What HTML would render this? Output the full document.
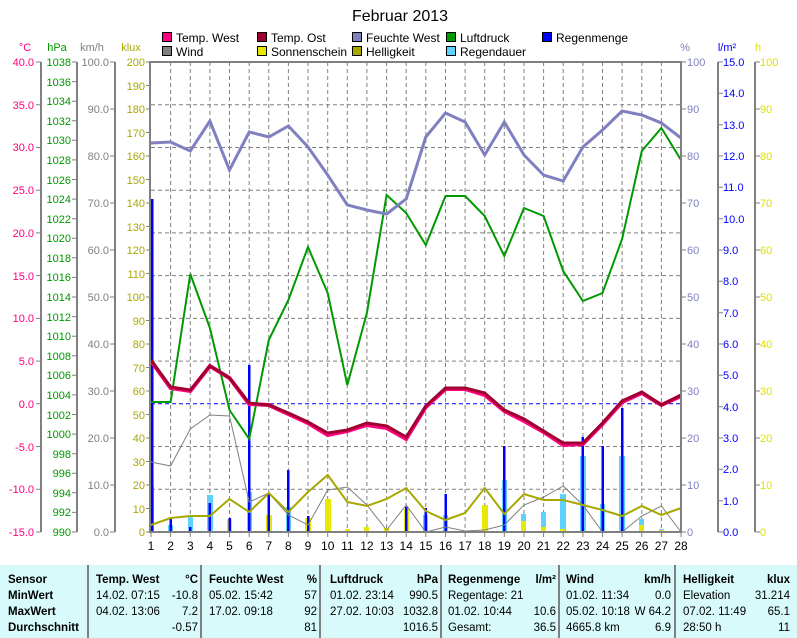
<!DOCTYPE html>
<html><head><meta charset="utf-8"><style>
body{margin:0;background:#fff;}
svg{display:block;font-family:"Liberation Sans",sans-serif;}
</style></head><body>
<svg width="797" height="638" viewBox="0 0 797 638" xmlns="http://www.w3.org/2000/svg">
<rect width="797" height="638" fill="#fff"/>
<text x="400" y="21" font-size="16" text-anchor="middle">Februar 2013</text>
<!-- legend -->
<g font-size="12" stroke="#000" stroke-width="1">
<rect x="162.5" y="32.5" width="9" height="9" fill="#ff0080"/>
<rect x="162.5" y="46.5" width="9" height="9" fill="#808080"/>
<rect x="257.5" y="32.5" width="9" height="9" fill="#a00030"/>
<rect x="257.5" y="46.5" width="9" height="9" fill="#e8e800"/>
<rect x="352.5" y="32.5" width="9" height="9" fill="#8080c0"/>
<rect x="352.5" y="46.5" width="9" height="9" fill="#a8a800"/>
<rect x="446.5" y="32.5" width="9" height="9" fill="#009900"/>
<rect x="446.5" y="46.5" width="9" height="9" fill="#60d0ff"/>
<rect x="542.5" y="32.5" width="9" height="9" fill="#0000ff"/>
</g>
<g font-size="12" fill="#000">
<text x="176" y="42">Temp. West</text><text x="176" y="56">Wind</text>
<text x="271" y="42">Temp. Ost</text><text x="271" y="56">Sonnenschein</text>
<text x="366" y="42">Feuchte West</text><text x="366" y="56">Helligkeit</text>
<text x="460" y="42">Luftdruck</text><text x="460" y="56">Regendauer</text>
<text x="556" y="42">Regenmenge</text>
</g>
<!-- axis titles -->
<g font-size="11">
<text x="25" y="51" text-anchor="middle" fill="#ff0080">°C</text>
<text x="57" y="51" text-anchor="middle" fill="#009900">hPa</text>
<text x="92" y="51" text-anchor="middle" fill="#808080">km/h</text>
<text x="131" y="51" text-anchor="middle" fill="#a8a800">klux</text>
<text x="685" y="51" text-anchor="middle" fill="#8080c0">%</text>
<text x="727" y="51" text-anchor="middle" fill="#0000ff">l/m²</text>
<text x="758" y="51" text-anchor="middle" fill="#e0e000">h</text>
</g>
<!-- axis lines -->
<g stroke="#808080" stroke-width="2">
<line x1="41" y1="62" x2="41" y2="532"/>
<line x1="77" y1="62" x2="77" y2="532"/>
<line x1="115" y1="62" x2="115" y2="532"/>
<line x1="718" y1="62" x2="718" y2="532"/>
<line x1="755" y1="62" x2="755" y2="532"/>
</g>
<!-- grid -->
<g stroke="#808080" stroke-width="1" stroke-dasharray="4,3">
<line x1="170.6" y1="62" x2="170.6" y2="532"/><line x1="190.3" y1="62" x2="190.3" y2="532"/><line x1="209.9" y1="62" x2="209.9" y2="532"/><line x1="229.5" y1="62" x2="229.5" y2="532"/><line x1="249.2" y1="62" x2="249.2" y2="532"/><line x1="268.8" y1="62" x2="268.8" y2="532"/><line x1="288.4" y1="62" x2="288.4" y2="532"/><line x1="308" y1="62" x2="308" y2="532"/><line x1="327.7" y1="62" x2="327.7" y2="532"/><line x1="347.3" y1="62" x2="347.3" y2="532"/><line x1="366.9" y1="62" x2="366.9" y2="532"/><line x1="386.6" y1="62" x2="386.6" y2="532"/><line x1="406.2" y1="62" x2="406.2" y2="532"/><line x1="425.8" y1="62" x2="425.8" y2="532"/><line x1="445.5" y1="62" x2="445.5" y2="532"/><line x1="465.1" y1="62" x2="465.1" y2="532"/><line x1="484.7" y1="62" x2="484.7" y2="532"/><line x1="504.3" y1="62" x2="504.3" y2="532"/><line x1="524" y1="62" x2="524" y2="532"/><line x1="543.6" y1="62" x2="543.6" y2="532"/><line x1="563.2" y1="62" x2="563.2" y2="532"/><line x1="582.9" y1="62" x2="582.9" y2="532"/><line x1="602.5" y1="62" x2="602.5" y2="532"/><line x1="622.1" y1="62" x2="622.1" y2="532"/><line x1="641.8" y1="62" x2="641.8" y2="532"/><line x1="661.4" y1="62" x2="661.4" y2="532"/>
<line x1="151" y1="104.7" x2="681" y2="104.7"/><line x1="151" y1="147.5" x2="681" y2="147.5"/><line x1="151" y1="190.2" x2="681" y2="190.2"/><line x1="151" y1="232.9" x2="681" y2="232.9"/><line x1="151" y1="275.6" x2="681" y2="275.6"/><line x1="151" y1="318.4" x2="681" y2="318.4"/><line x1="151" y1="361.1" x2="681" y2="361.1"/><line x1="151" y1="446.5" x2="681" y2="446.5"/><line x1="151" y1="489.3" x2="681" y2="489.3"/>
</g>
<line x1="151" y1="403.8" x2="681" y2="403.8" stroke="#0000ff" stroke-width="1" stroke-dasharray="4,3"/>
<!-- ticks -->
<g stroke="#808080" stroke-width="1">
<path d="M36 62H41M36 104.7H41M36 147.5H41M36 190.2H41M36 232.9H41M36 275.6H41M36 318.4H41M36 361.1H41M36 403.8H41M36 446.5H41M36 489.3H41M36 532H41"/>
<path d="M72 62H77M72 81.6H77M72 101.2H77M72 120.8H77M72 140.3H77M72 159.9H77M72 179.5H77M72 199.1H77M72 218.7H77M72 238.2H77M72 257.8H77M72 277.4H77M72 297H77M72 316.6H77M72 336.2H77M72 355.7H77M72 375.3H77M72 394.9H77M72 414.5H77M72 434.1H77M72 453.7H77M72 473.2H77M72 492.8H77M72 512.4H77M72 532H77"/>
<path d="M110 62H115M110 109H115M110 156H115M110 203H115M110 250H115M110 297H115M110 344H115M110 391H115M110 438H115M110 485H115M110 532H115"/>
<path d="M146 62H151M146 85.5H151M146 109H151M146 132.5H151M146 156H151M146 179.5H151M146 203H151M146 226.5H151M146 250H151M146 273.5H151M146 297H151M146 320.5H151M146 344H151M146 367.5H151M146 391H151M146 414.5H151M146 438H151M146 461.5H151M146 485H151M146 508.5H151M146 532H151"/>
<path d="M681 62H686M681 109H686M681 156H686M681 203H686M681 250H686M681 297H686M681 344H686M681 391H686M681 438H686M681 485H686M681 532H686"/>
<path d="M718 62H723M718 93.3H723M718 124.7H723M718 156H723M718 187.3H723M718 218.7H723M718 250H723M718 281.3H723M718 312.7H723M718 344H723M718 375.3H723M718 406.7H723M718 438H723M718 469.3H723M718 500.7H723M718 532H723"/>
<path d="M755 62H760M755 109H760M755 156H760M755 203H760M755 250H760M755 297H760M755 344H760M755 391H760M755 438H760M755 485H760M755 532H760"/>
<path d="M151 532V537M170.6 532V537M190.3 532V537M209.9 532V537M229.5 532V537M249.2 532V537M268.8 532V537M288.4 532V537M308 532V537M327.7 532V537M347.3 532V537M366.9 532V537M386.6 532V537M406.2 532V537M425.8 532V537M445.5 532V537M465.1 532V537M484.7 532V537M504.3 532V537M524 532V537M543.6 532V537M563.2 532V537M582.9 532V537M602.5 532V537M622.1 532V537M641.8 532V537M661.4 532V537M681 532V537"/>
</g>
<!-- tick labels -->
<g font-size="11" text-anchor="end" fill="#ff0080">
<text x="34" y="66">40.0</text><text x="34" y="109">35.0</text><text x="34" y="151">30.0</text><text x="34" y="194">25.0</text><text x="34" y="237">20.0</text><text x="34" y="280">15.0</text><text x="34" y="322">10.0</text><text x="34" y="365">5.0</text><text x="34" y="408">0.0</text><text x="34" y="451">-5.0</text><text x="34" y="493">-10.0</text><text x="34" y="536">-15.0</text>
</g>
<g font-size="11" text-anchor="end" fill="#009900">
<text x="71" y="66">1038</text><text x="71" y="86">1036</text><text x="71" y="105">1034</text><text x="71" y="125">1032</text><text x="71" y="144">1030</text><text x="71" y="164">1028</text><text x="71" y="184">1026</text><text x="71" y="203">1024</text><text x="71" y="223">1022</text><text x="71" y="242">1020</text><text x="71" y="262">1018</text><text x="71" y="281">1016</text><text x="71" y="301">1014</text><text x="71" y="321">1012</text><text x="71" y="340">1010</text><text x="71" y="360">1008</text><text x="71" y="379">1006</text><text x="71" y="399">1004</text><text x="71" y="419">1002</text><text x="71" y="438">1000</text><text x="71" y="458">998</text><text x="71" y="477">996</text><text x="71" y="497">994</text><text x="71" y="516">992</text><text x="71" y="536">990</text>
</g>
<g font-size="11" text-anchor="end" fill="#808080">
<text x="109" y="66">100.0</text><text x="109" y="113">90.0</text><text x="109" y="160">80.0</text><text x="109" y="207">70.0</text><text x="109" y="254">60.0</text><text x="109" y="301">50.0</text><text x="109" y="348">40.0</text><text x="109" y="395">30.0</text><text x="109" y="442">20.0</text><text x="109" y="489">10.0</text><text x="109" y="536">0.0</text>
</g>
<g font-size="11" text-anchor="end" fill="#a8a800">
<text x="145" y="66">200</text><text x="145" y="90">190</text><text x="145" y="113">180</text><text x="145" y="137">170</text><text x="145" y="160">160</text><text x="145" y="184">150</text><text x="145" y="207">140</text><text x="145" y="231">130</text><text x="145" y="254">120</text><text x="145" y="278">110</text><text x="145" y="301">100</text><text x="145" y="325">90</text><text x="145" y="348">80</text><text x="145" y="372">70</text><text x="145" y="395">60</text><text x="145" y="419">50</text><text x="145" y="442">40</text><text x="145" y="466">30</text><text x="145" y="489">20</text><text x="145" y="513">10</text><text x="145" y="536">0</text>
</g>
<g font-size="11" fill="#8080c0">
<text x="687" y="66">100</text><text x="687" y="113">90</text><text x="687" y="160">80</text><text x="687" y="207">70</text><text x="687" y="254">60</text><text x="687" y="301">50</text><text x="687" y="348">40</text><text x="687" y="395">30</text><text x="687" y="442">20</text><text x="687" y="489">10</text><text x="687" y="536">0</text>
</g>
<g font-size="11" fill="#0000ff">
<text x="723" y="66">15.0</text><text x="723" y="97">14.0</text><text x="723" y="129">13.0</text><text x="723" y="160">12.0</text><text x="723" y="191">11.0</text><text x="723" y="223">10.0</text><text x="723" y="254">9.0</text><text x="723" y="285">8.0</text><text x="723" y="317">7.0</text><text x="723" y="348">6.0</text><text x="723" y="379">5.0</text><text x="723" y="411">4.0</text><text x="723" y="442">3.0</text><text x="723" y="473">2.0</text><text x="723" y="505">1.0</text><text x="723" y="536">0.0</text>
</g>
<g font-size="11" fill="#e0e000">
<text x="760" y="66">100</text><text x="760" y="113">90</text><text x="760" y="160">80</text><text x="760" y="207">70</text><text x="760" y="254">60</text><text x="760" y="301">50</text><text x="760" y="348">40</text><text x="760" y="395">30</text><text x="760" y="442">20</text><text x="760" y="489">10</text><text x="760" y="536">0</text>
</g>
<g font-size="12" text-anchor="middle" fill="#000">
<text x="151" y="550">1</text><text x="170.6" y="550">2</text><text x="190.3" y="550">3</text><text x="209.9" y="550">4</text><text x="229.5" y="550">5</text><text x="249.2" y="550">6</text><text x="268.8" y="550">7</text><text x="288.4" y="550">8</text><text x="308" y="550">9</text><text x="327.7" y="550">10</text><text x="347.3" y="550">11</text><text x="366.9" y="550">12</text><text x="386.6" y="550">13</text><text x="406.2" y="550">14</text><text x="425.8" y="550">15</text><text x="445.5" y="550">16</text><text x="465.1" y="550">17</text><text x="484.7" y="550">18</text><text x="504.3" y="550">19</text><text x="524" y="550">20</text><text x="543.6" y="550">21</text><text x="563.2" y="550">22</text><text x="582.9" y="550">23</text><text x="602.5" y="550">24</text><text x="622.1" y="550">25</text><text x="641.8" y="550">26</text><text x="661.4" y="550">27</text><text x="681" y="550">28</text>
</g>
<!-- bars: Regendauer -->
<g fill="#60d0ff">
<rect x="149" y="487" width="5" height="45"/><rect x="168" y="525" width="5" height="7"/><rect x="188" y="516" width="5" height="16"/><rect x="207" y="495" width="6" height="37"/><rect x="247" y="492" width="5" height="40"/><rect x="286" y="507" width="5" height="25"/><rect x="423" y="515" width="5" height="17"/><rect x="443" y="515" width="5" height="17"/><rect x="502" y="480" width="5" height="52"/><rect x="521" y="514" width="5" height="18"/><rect x="541" y="512" width="5" height="20"/><rect x="560" y="494" width="6" height="38"/><rect x="580" y="456" width="6" height="76"/><rect x="600" y="504" width="5" height="28"/><rect x="619" y="456" width="6" height="76"/><rect x="639" y="519" width="5" height="13"/><rect x="659" y="529" width="5" height="3"/>
</g>
<!-- Sonnenschein -->
<g fill="#e8e800">
<rect x="149" y="530" width="5" height="2"/><rect x="207" y="530" width="5" height="2"/><rect x="227" y="519" width="5" height="13"/><rect x="247" y="530" width="5" height="2"/><rect x="266" y="515" width="6" height="17"/><rect x="305" y="518" width="6" height="14"/><rect x="325" y="499" width="6" height="33"/><rect x="345" y="529" width="5" height="3"/><rect x="364" y="527" width="5" height="5"/><rect x="384" y="528" width="5" height="4"/><rect x="404" y="509" width="5" height="23"/><rect x="482" y="505" width="6" height="27"/><rect x="521" y="521" width="5" height="11"/><rect x="541" y="527" width="5" height="5"/><rect x="560" y="529" width="5" height="3"/><rect x="639" y="525" width="5" height="7"/><rect x="659" y="530" width="5" height="2"/>
</g>
<!-- Regenmenge -->
<g fill="#0000ff">
<rect x="151" y="199" width="2.5" height="333"/><rect x="169.5" y="517" width="2.5" height="15"/><rect x="189" y="527" width="2.5" height="5"/><rect x="208.5" y="503" width="2.5" height="29"/><rect x="228.5" y="518" width="2.5" height="14"/><rect x="248" y="365" width="2.5" height="167"/><rect x="267.5" y="493" width="2.5" height="39"/><rect x="287" y="470" width="2.5" height="62"/><rect x="307" y="516" width="2.5" height="16"/><rect x="405" y="507" width="2.5" height="25"/><rect x="424.5" y="508" width="2.5" height="24"/><rect x="444.5" y="494" width="2.5" height="38"/><rect x="503" y="446" width="2.5" height="86"/><rect x="581.5" y="437" width="2.5" height="95"/><rect x="601.5" y="446" width="2.5" height="86"/><rect x="621" y="408" width="2.5" height="124"/>
</g>
<!-- Wind -->
<polyline fill="none" stroke="#808080" stroke-width="1" points="151,462 170.6,466 190.3,429 209.9,415 229.5,416 249.2,502 268.8,493 288.4,515 308,525 327.7,490 347.3,487 366.9,505 386.6,530 406.2,505 425.8,532 445.5,527 465.1,531 484.7,530 504.3,525 524,505 543.6,497 563.2,486 582.9,505 602.5,532 622.1,532 641.8,516 661.4,506 681,532"/>
<!-- Helligkeit -->
<polyline fill="none" stroke="#a8a800" stroke-width="2" points="151,525 170.6,518 190.3,516 209.9,516 229.5,499 249.2,512 268.8,493 288.4,512 308,492 327.7,475 347.3,502 366.9,506 386.6,499 406.2,488 425.8,511 445.5,520 465.1,513 484.7,488 504.3,514 524,494 543.6,500 563.2,500 582.9,505 602.5,510 622.1,516 641.8,506 661.4,515 681,508"/>
<!-- Luftdruck -->
<polyline fill="none" stroke="#009900" stroke-width="2" points="151,402 170.6,402 190.3,274 209.9,328 229.5,410 249.2,439 268.8,340 288.4,300 308,247 327.7,293 347.3,385 366.9,313 386.6,195 406.2,213 425.8,245 445.5,196 465.1,196 484.7,216 504.3,256 524,208 543.6,216 563.2,271 582.9,301 602.5,293 622.1,239 641.8,151 661.4,128 681,160"/>
<!-- Feuchte -->
<polyline fill="none" stroke="#8080c0" stroke-width="3" points="151,143 170.6,142 190.3,151 209.9,121 229.5,170 249.2,132 268.8,137 288.4,126 308,147 327.7,175 347.3,205 366.9,210 386.6,214 406.2,199 425.8,137 445.5,113 465.1,122 484.7,155 504.3,122 524,155 543.6,175 563.2,181 582.9,147 602.5,130 622.1,111 641.8,115 661.4,123 681,138"/>
<!-- Temp West -->
<polyline fill="none" stroke="#ff0080" stroke-width="4" points="151,361 170.6,388 190.3,391 209.9,366 229.5,378 249.2,404 268.8,405 288.4,414 308,423 327.7,435 347.3,431 366.9,425 386.6,428 406.2,439 425.8,407 445.5,389 465.1,389 484.7,395 504.3,411 524,421 543.6,432 563.2,445 582.9,444 602.5,424 622.1,402 641.8,393 661.4,405 681,396"/>
<!-- Temp Ost -->
<polyline fill="none" stroke="#a00030" stroke-width="3" points="151,360 170.6,387 190.3,390 209.9,366 229.5,378 249.2,403 268.8,405 288.4,413 308,422 327.7,433 347.3,430 366.9,423 386.6,426 406.2,437 425.8,406 445.5,388 465.1,388 484.7,393 504.3,410 524,419 543.6,431 563.2,443 582.9,443 602.5,423 622.1,401 641.8,392 661.4,405 681,395"/>
<!-- plot border -->
<g stroke="#808080" stroke-width="2" fill="none">
<line x1="150" y1="62" x2="682" y2="62"/>
<line x1="150" y1="61" x2="150" y2="533"/>
<line x1="681" y1="61" x2="681" y2="533"/>
<line x1="150" y1="532" x2="682" y2="532"/>
</g>
<!-- table -->
<rect x="0" y="565" width="797" height="73" fill="#d8fafa"/>
<g stroke="#808080" stroke-width="2">
<line x1="88" y1="565" x2="88" y2="638"/><line x1="201" y1="565" x2="201" y2="638"/><line x1="320" y1="565" x2="320" y2="638"/><line x1="441" y1="565" x2="441" y2="638"/><line x1="559" y1="565" x2="559" y2="638"/><line x1="675" y1="565" x2="675" y2="638"/>
</g>
<g font-size="11.5" font-weight="bold" fill="#000">
<text x="8" y="583">Sensor</text><text x="8" y="599">MinWert</text><text x="8" y="615">MaxWert</text><text x="8" y="631">Durchschnitt</text>
<text x="96" y="583">Temp. West</text><text x="198" y="583" text-anchor="end">°C</text>
<text x="209" y="583">Feuchte West</text><text x="317" y="583" text-anchor="end">%</text>
<text x="330" y="583">Luftdruck</text><text x="438" y="583" text-anchor="end">hPa</text>
<text x="448" y="583">Regenmenge</text><text x="556" y="583" text-anchor="end">l/m²</text>
<text x="566" y="583">Wind</text><text x="671" y="583" text-anchor="end">km/h</text>
<text x="683" y="583">Helligkeit</text><text x="790" y="583" text-anchor="end">klux</text>
</g>
<g font-size="11.5" fill="#000">
<text x="96" y="599">14.02.  07:15</text><text x="198" y="599" text-anchor="end">-10.8</text>
<text x="96" y="615">04.02.  13:06</text><text x="198" y="615" text-anchor="end">7.2</text>
<text x="198" y="631" text-anchor="end">-0.57</text>
<text x="209" y="599">05.02.  15:42</text><text x="317" y="599" text-anchor="end">57</text>
<text x="209" y="615">17.02.  09:18</text><text x="317" y="615" text-anchor="end">92</text>
<text x="317" y="631" text-anchor="end">81</text>
<text x="330" y="599">01.02.  23:14</text><text x="438" y="599" text-anchor="end">990.5</text>
<text x="330" y="615">27.02.  10:03</text><text x="438" y="615" text-anchor="end">1032.8</text>
<text x="438" y="631" text-anchor="end">1016.5</text>
<text x="448" y="599">Regentage: 21</text>
<text x="448" y="615">01.02.  10:44</text><text x="556" y="615" text-anchor="end">10.6</text>
<text x="448" y="631">Gesamt:</text><text x="556" y="631" text-anchor="end">36.5</text>
<text x="566" y="599">01.02.  11:34</text><text x="671" y="599" text-anchor="end">0.0</text>
<text x="566" y="615">05.02. 10:18</text><text x="671" y="615" text-anchor="end">W 64.2</text>
<text x="566" y="631">4665.8 km</text><text x="671" y="631" text-anchor="end">6.9</text>
<text x="683" y="599">Elevation</text><text x="790" y="599" text-anchor="end">31.214</text>
<text x="683" y="615">07.02.  11:49</text><text x="790" y="615" text-anchor="end">65.1</text>
<text x="683" y="631">28:50 h</text><text x="790" y="631" text-anchor="end">11</text>
</g>
</svg>
</body></html>
